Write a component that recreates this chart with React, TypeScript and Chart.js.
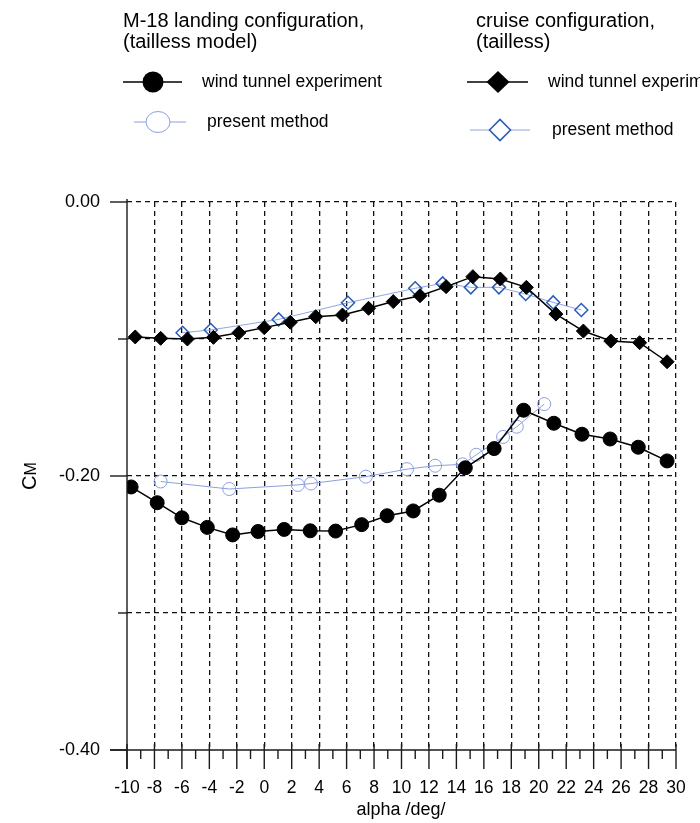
import React, { useEffect, useRef } from 'react';
import { Chart, registerables } from 'chart.js';

Chart.register(...registerables);

const FONT = "'Liberation Sans', Arial, Helvetica, sans-serif";

// M-18 landing configuration (tailless model) - wind tunnel experiment
const landingExpAlpha = [-9.7, -7.8, -6.0, -4.15, -2.3, -0.45, 1.45, 3.35, 5.2, 7.1, 8.95, 10.85, 12.75, 14.65, 16.75, 18.9, 21.1, 23.15, 25.2, 27.25, 29.35];
const landingExpCm = [-0.208, -0.2195, -0.2305, -0.2375, -0.243, -0.2405, -0.239, -0.24, -0.2402, -0.2355, -0.229, -0.2255, -0.214, -0.194, -0.18, -0.152, -0.1615, -0.1695, -0.173, -0.179, -0.189];

// M-18 landing configuration - present method
const landingPmAlpha = [-7.55, -2.55, 2.45, 3.4, 7.4, 10.4, 12.45, 14.45, 15.45, 17.4, 18.4, 20.4];
const landingPmCm = [-0.204, -0.2095, -0.2065, -0.2055, -0.2005, -0.195, -0.1925, -0.1915, -0.1845, -0.1715, -0.164, -0.1475];

// cruise configuration (tailless) - wind tunnel experiment
const cruiseExpAlpha = [-9.4, -7.55, -5.6, -3.7, -1.85, 0.0, 1.9, 3.75, 5.7, 7.6, 9.4, 11.35, 13.25, 15.2, 17.2, 19.1, 21.25, 23.25, 25.25, 27.35, 29.35];
const cruiseExpCm = [-0.0985, -0.0995, -0.1, -0.0988, -0.0955, -0.0917, -0.0878, -0.0837, -0.0825, -0.0776, -0.0727, -0.0684, -0.0618, -0.0545, -0.0562, -0.0623, -0.0818, -0.0942, -0.1015, -0.1027, -0.1166];

// cruise configuration - present method
const cruisePmAlpha = [-5.95, -3.9, 1.05, 6.1, 11.0, 13.0, 15.05, 17.1, 19.05, 21.05, 23.1];
const cruisePmCm = [-0.0954, -0.0934, -0.0857, -0.0735, -0.063, -0.0594, -0.0623, -0.0623, -0.0672, -0.0733, -0.0788];

const xMin = -10;
const xMax = 30;
const xStep = 2;
const yMin = -0.4;
const yMax = 0;
const yStep = 0.1;

const legendTitleLeft = ['M-18 landing configuration,', '(tailless model)'];
const legendTitleRight = ['cruise configuration,', '(tailless)'];
const legendEntries = ['wind tunnel experiment', 'present method'];
const xTitle = 'alpha /deg/';
const yTitleMain = 'C';
const yTitleSub = 'M';

const BLACK = '#000000';
const LIGHT_BLUE = '#8a9fe0';
const DIAMOND_BLUE = '#2a5cb5';
const DIAMOND_LINE = '#8ea6e3';

const toPoints = (xs: number[], ys: number[]) => xs.map((x, i) => ({ x, y: ys[i] }));

function App() {
  const ref = useRef<HTMLCanvasElement | null>(null);

  useEffect(() => {
    if (!ref.current) return;

    const line = (ctx: CanvasRenderingContext2D, x1: number, y1: number, x2: number, y2: number) => {
      ctx.beginPath();
      ctx.moveTo(x1, y1);
      ctx.lineTo(x2, y2);
      ctx.stroke();
    };

    const diamond = (ctx: CanvasRenderingContext2D, x: number, y: number, rx: number, ry: number) => {
      ctx.beginPath();
      ctx.moveTo(x - rx, y);
      ctx.lineTo(x, y - ry);
      ctx.lineTo(x + rx, y);
      ctx.lineTo(x, y + ry);
      ctx.closePath();
    };

    const decoPlugin = {
      id: 'deco',
      afterDraw(chart: any) {
        const { ctx, chartArea: a, scales } = chart;
        const xs = scales.x;
        const ys = scales.y;
        ctx.save();
        ctx.setLineDash([]);
        ctx.strokeStyle = '#1a1a1a';
        ctx.lineWidth = 1.4;
        // axes
        line(ctx, a.left, a.top - 3, a.left, a.bottom + 19);
        line(ctx, a.left - 17, a.bottom, a.right, a.bottom);
        // y ticks
        for (let k = 0; k <= 4; k++) {
          const py = ys.getPixelForValue(yMax - k * yStep);
          const len = k % 2 === 0 ? 17 : 9;
          line(ctx, a.left - len, py, a.left, py);
        }
        // x ticks
        for (let v = xMin; v <= xMax; v++) {
          const px = xs.getPixelForValue(v);
          if (v % 2 === 0) line(ctx, px, a.bottom - 6, px, a.bottom + 19);
          else line(ctx, px, a.bottom, px, a.bottom + 9);
        }

        // axis titles
        ctx.fillStyle = '#000';
        ctx.textAlign = 'center';
        ctx.textBaseline = 'alphabetic';
        ctx.font = `18px ${FONT}`;
        ctx.fillText(xTitle, 401, 815);

        ctx.save();
        ctx.translate(36, (a.top + a.bottom) / 2);
        ctx.rotate(-Math.PI / 2);
        ctx.textAlign = 'left';
        ctx.textBaseline = 'alphabetic';
        ctx.font = `20px ${FONT}`;
        const wC = ctx.measureText(yTitleMain).width;
        ctx.font = `16px ${FONT}`;
        const wM = ctx.measureText(yTitleSub).width;
        const start = -(wC + wM) / 2;
        ctx.font = `20px ${FONT}`;
        ctx.fillText(yTitleMain, start, 0);
        ctx.font = `16px ${FONT}`;
        ctx.fillText(yTitleSub, start + wC, 0);
        ctx.restore();

        // legend titles
        ctx.textAlign = 'left';
        ctx.textBaseline = 'alphabetic';
        ctx.font = `20px ${FONT}`;
        ctx.fillText(legendTitleLeft[0], 123, 27);
        ctx.fillText(legendTitleLeft[1], 123, 48);
        ctx.fillText(legendTitleRight[0], 476, 27);
        ctx.fillText(legendTitleRight[1], 476, 48);

        // legend entries
        ctx.font = `17.5px ${FONT}`;
        ctx.textBaseline = 'middle';
        // left row 1: black circle
        ctx.strokeStyle = BLACK;
        ctx.lineWidth = 1.5;
        line(ctx, 123, 82, 182, 82);
        ctx.fillStyle = BLACK;
        ctx.beginPath();
        ctx.arc(153, 82, 10.5, 0, Math.PI * 2);
        ctx.fill();
        ctx.fillText(legendEntries[0], 202, 82);
        // left row 2: open circle
        ctx.strokeStyle = LIGHT_BLUE;
        ctx.lineWidth = 1;
        line(ctx, 134, 122, 186, 122);
        ctx.fillStyle = '#ffffff';
        ctx.beginPath();
        ctx.ellipse(158, 122, 12, 10.5, 0, 0, Math.PI * 2);
        ctx.fill();
        ctx.stroke();
        ctx.fillStyle = BLACK;
        ctx.fillText(legendEntries[1], 207, 122);
        // right row 1: black diamond
        ctx.strokeStyle = BLACK;
        ctx.lineWidth = 1.5;
        line(ctx, 467, 82, 528, 82);
        diamond(ctx, 498, 82, 11.5, 11);
        ctx.fillStyle = BLACK;
        ctx.fill();
        ctx.fillText(legendEntries[0], 548, 82);
        // right row 2: open diamond
        ctx.strokeStyle = DIAMOND_LINE;
        ctx.lineWidth = 1;
        line(ctx, 470, 130, 530, 130);
        diamond(ctx, 500, 130, 10.5, 10.5);
        ctx.fillStyle = '#ffffff';
        ctx.fill();
        ctx.strokeStyle = DIAMOND_BLUE;
        ctx.lineWidth = 1.6;
        ctx.stroke();
        ctx.fillStyle = BLACK;
        ctx.fillText(legendEntries[1], 552, 130);

        ctx.restore();
      },
    };

    const isEven = (v: number) => Math.round(v) % 2 === 0;

    const chart = new Chart(ref.current, {
      type: 'scatter',
      data: {
        datasets: [
          {
            label: 'cruise wind tunnel experiment',
            data: toPoints(cruiseExpAlpha, cruiseExpCm),
            showLine: true,
            borderColor: BLACK,
            borderWidth: 1.5,
            pointStyle: 'rectRot',
            pointRadius: 7,
            pointBackgroundColor: BLACK,
            pointBorderColor: BLACK,
            pointBorderWidth: 1,
          },
          {
            label: 'landing wind tunnel experiment',
            data: toPoints(landingExpAlpha, landingExpCm),
            showLine: true,
            borderColor: BLACK,
            borderWidth: 1.5,
            pointStyle: 'circle',
            pointRadius: 7,
            pointBackgroundColor: BLACK,
            pointBorderColor: BLACK,
            pointBorderWidth: 1,
          },
          {
            label: 'cruise present method',
            data: toPoints(cruisePmAlpha, cruisePmCm),
            showLine: true,
            borderColor: DIAMOND_LINE,
            borderWidth: 1,
            pointStyle: 'rectRot',
            pointRadius: 6.5,
            pointBackgroundColor: 'rgba(255,255,255,0)',
            pointBorderColor: DIAMOND_BLUE,
            pointBorderWidth: 1.5,
          },
          {
            label: 'landing present method',
            data: toPoints(landingPmAlpha, landingPmCm),
            showLine: true,
            borderColor: LIGHT_BLUE,
            borderWidth: 1,
            pointStyle: 'circle',
            pointRadius: 6.5,
            pointBackgroundColor: 'rgba(255,255,255,0)',
            pointBorderColor: LIGHT_BLUE,
            pointBorderWidth: 1,
          },
        ],
      },
      options: {
        animation: false,
        responsive: true,
        maintainAspectRatio: false,
        layout: { padding: { top: 202, left: 0, right: 24, bottom: 0 } },
        plugins: {
          legend: { display: false },
          tooltip: { enabled: false },
        },
        scales: {
          x: {
            type: 'linear',
            min: xMin,
            max: xMax,
            afterFit: (s: any) => {
              s.height = 73;
              s.paddingLeft = 0;
              s.paddingRight = 0;
            },
            ticks: {
              stepSize: xStep,
              autoSkip: false,
              maxRotation: 0,
              padding: 28,
              color: '#000',
              font: { family: FONT, size: 17.5 },
              callback: (v: any) => String(v),
            },
            grid: {
              drawTicks: false,
              lineWidth: 1.3,
              color: (c: any) => (c.tick && Math.abs(c.tick.value - xMin) < 1e-6 ? 'rgba(0,0,0,0)' : '#111'),
            },
            border: { display: false, dash: [5, 4] },
          },
          y: {
            type: 'linear',
            min: yMin,
            max: yMax,
            afterFit: (s: any) => {
              s.width = 127;
              s.paddingTop = 0;
              s.paddingBottom = 0;
            },
            ticks: {
              stepSize: yStep,
              autoSkip: false,
              padding: 27,
              color: '#000',
              font: { family: FONT, size: 18 },
              callback: (v: any) => {
                const k = Math.round(Number(v) * 10);
                return isEven(k) ? (k / 10).toFixed(2) : '';
              },
            },
            grid: {
              drawTicks: false,
              lineWidth: 1.3,
              color: (c: any) => (c.tick && Math.abs(c.tick.value - yMin) < 1e-6 ? 'rgba(0,0,0,0)' : '#111'),
            },
            border: { display: false, dash: [5, 4] },
          },
        },
      },
      plugins: [decoPlugin],
    });

    return () => chart.destroy();
  }, []);

  return (
    <div style={{ position: 'absolute', left: 0, top: 0, width: 700, height: 823, background: '#fff' }}>
      <canvas ref={ref} />
    </div>
  );
}

export default App;
